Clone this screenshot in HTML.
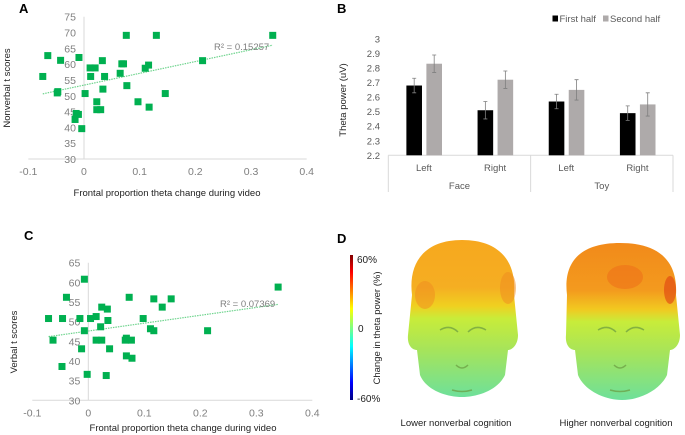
<!DOCTYPE html>
<html><head><meta charset="utf-8"><style>
body{margin:0;background:#fff}
svg{display:block;font-family:"Liberation Sans",sans-serif}
</style></head><body>
<svg id="fig" width="685" height="435" viewBox="0 0 685 435">
<defs>
<linearGradient id="cbar" x1="0" y1="0" x2="0" y2="1">
<stop offset="0" stop-color="#800000"/><stop offset="0.12" stop-color="#ff0000"/><stop offset="0.37" stop-color="#ffff00"/><stop offset="0.5" stop-color="#80ff80"/><stop offset="0.63" stop-color="#00ffff"/><stop offset="0.88" stop-color="#0000ff"/><stop offset="1" stop-color="#000080"/>
</linearGradient>
<linearGradient id="headL" x1="0" y1="0" x2="0" y2="1">
<stop offset="0" stop-color="#f7a81e"/><stop offset="0.3" stop-color="#f5ae22"/><stop offset="0.42" stop-color="#f0d020"/><stop offset="0.5" stop-color="#c8ec3a"/><stop offset="0.7" stop-color="#a6e45a"/><stop offset="1" stop-color="#6ee09a"/>
</linearGradient>
<linearGradient id="headR" x1="0" y1="0" x2="0" y2="1">
<stop offset="0" stop-color="#f28a1a"/><stop offset="0.3" stop-color="#f39a1e"/><stop offset="0.42" stop-color="#f2c820"/><stop offset="0.5" stop-color="#c8ec3a"/><stop offset="0.7" stop-color="#a6e45a"/><stop offset="1" stop-color="#6ee09a"/>
</linearGradient>
</defs>
<g id="panelA"></g>
<g id="panelB"></g>
<g id="panelC"></g>
<g id="panelD">
<text x="337" y="243" font-size="13" font-weight="bold">D</text>
<rect x="350" y="255" width="3" height="145" fill="url(#cbar)"/>
<text x="357" y="263" font-size="10" fill="#222">60%</text>
<text x="358" y="332" font-size="10" fill="#222">0</text>
<text x="357" y="402" font-size="10" fill="#222">-60%</text>
<text transform="translate(380,328) rotate(-90)" text-anchor="middle" font-size="9.5" fill="#222">Change in theta power (%)</text>
<g>
<path d="M412,295 C408,262 425,240 462,240 C500,240 517,262 514,295 L518,335 C518,345 512,350 508,350 L505,375 C498,390 478,397 462,397 C446,397 426,390 420,375 L417,350 C412,350 407,345 408,335 Z" fill="url(#headL)"/>
<ellipse cx="425" cy="295" rx="10" ry="14" fill="#f08a20" opacity="0.5"/>
<ellipse cx="508" cy="288" rx="8" ry="16" fill="#f08a20" opacity="0.5"/>
<path d="M440,330 q10,-6 18,2 M468,332 q8,-8 18,-2 M456,365 q6,6 12,0 M452,390 q10,3 20,0" stroke="#6a9a40" stroke-width="1.5" fill="none" opacity="0.7"/>
</g>
<g>
<path d="M567,295 C563,262 580,243 620,243 C660,243 678,262 676,295 L680,335 C680,345 674,350 670,350 L667,375 C660,390 640,400 622,400 C604,400 584,390 578,375 L575,350 C570,350 565,345 566,335 Z" fill="url(#headR)"/>
<ellipse cx="625" cy="277" rx="18" ry="12" fill="#ee6a18" opacity="0.5"/>
<ellipse cx="670" cy="290" rx="6" ry="14" fill="#e04010" opacity="0.6"/>
<path d="M598,330 q10,-6 18,2 M626,332 q8,-8 18,-2 M614,365 q6,6 12,0 M610,390 q10,3 20,0" stroke="#6a9a40" stroke-width="1.5" fill="none" opacity="0.7"/>
</g>
<text x="456" y="426" text-anchor="middle" font-size="9.5" fill="#222">Lower nonverbal cognition</text>
<text x="616" y="426" text-anchor="middle" font-size="9.5" fill="#222">Higher nonverbal cognition</text>
</g>
</svg>
<script>
const NS="http://www.w3.org/2000/svg";
function mk(p,t,a,txt){const e=document.createElementNS(NS,t);for(const k in a)e.setAttribute(k,a[k]);if(txt!==undefined)e.textContent=txt;p.appendChild(e);return e;}

// Panel A data
const aX=[-0.074,-0.065,-0.042,-0.048,-0.047,-0.009,-0.014,-0.010,-0.016,-0.004,0.002,0.011,0.020,0.012,0.023,0.023,0.030,0.033,0.034,0.037,0.065,0.068,0.071,0.076,0.077,0.097,0.110,0.116,0.117,0.130,0.146,0.213,0.339];
const aY=[56.1,62.7,61.2,50.9,51.3,62.1,44.4,44.1,42.5,39.6,50.7,58.8,58.8,56.1,48.1,45.6,45.6,61.1,52.1,56.1,57.1,60.1,60.1,69.1,53.2,48.1,58.7,59.7,46.4,69.1,50.7,61.1,69.1];
const aYTicks=[30,35,40,45,50,55,60,65,70,75];
const aXTicks=[-0.1,0,0.1,0.2,0.3,0.4];
const aTrend=[[-0.074,50.6],[0.339,66.0]];
const aR2="R² = 0.15257";

// Panel C data
const cX=[-0.071,-0.063,-0.046,-0.047,-0.039,-0.015,-0.012,-0.007,-0.007,-0.002,0.004,0.014,0.014,0.022,0.024,0.024,0.034,0.035,0.032,0.038,0.066,0.068,0.077,0.068,0.078,0.073,0.098,0.111,0.117,0.117,0.132,0.148,0.213,0.339];
const cY=[50.8,45.3,50.8,38.6,56.2,50.8,43.1,60.8,47.7,36.6,50.8,51.3,45.3,48.7,45.3,53.7,53.2,50.3,36.3,43.1,45.3,45.8,45.3,41.3,40.7,56.2,50.8,48.2,47.7,55.8,53.7,55.8,47.7,58.8];
const cYTicks=[30,35,40,45,50,55,60,65];
const cXTicks=[-0.1,0,0.1,0.2,0.3,0.4];
const cTrend=[[-0.071,46.2],[0.339,54.4]];
const cR2="R² = 0.07369";

// Panel B data
const bCats=["Left","Right","Left","Right"];
const bGroups=["Face","Toy"];
const bFirst=[2.68,2.51,2.57,2.49];
const bSecond=[2.83,2.72,2.65,2.55];
const bFirstErr=[0.05,0.06,0.05,0.05];
const bSecondErr=[0.06,0.06,0.07,0.08];
const bTicks=[2.2,2.3,2.4,2.5,2.6,2.7,2.8,2.9,3];

function scatter(g,cfg){
  const sx=v=>cfg.x0+(v-cfg.xmin)/(cfg.xmax-cfg.xmin)*(cfg.x1-cfg.x0);
  const sy=v=>cfg.yb+(v-cfg.ymin)/(cfg.ymax-cfg.ymin)*(cfg.yt-cfg.yb);
  let t=mk(g,"text",{x:cfg.lx,y:cfg.ly,"font-size":13,"font-weight":"bold"},cfg.label);
  
  
  let ax=mk(g,"line",{x1:sx(cfg.xmin),x2:sx(cfg.xmax),y1:sy(cfg.ymin),y2:sy(cfg.ymin),stroke:"#d9d9d9"});
  
  
  let ay=mk(g,"line",{x1:sx(0),x2:sx(0),y1:sy(cfg.ymin),y2:sy(cfg.ymax),stroke:"#d9d9d9"});
  
  
  cfg.yt_.forEach(v=>{const e=mk(g,"text",{x:sx(0)-8,y:sy(v)+4,"text-anchor":"end","font-size":10.5,fill:"#7f7f7f"},v);
    
    });
  cfg.xt_.forEach(v=>{const e=mk(g,"text",{x:sx(v),y:sy(cfg.ymin)+16,"text-anchor":"middle","font-size":10.5,fill:"#7f7f7f"},v);
    
    });
  const tr=mk(g,"line",{x1:sx(cfg.trend[0][0]),y1:sy(cfg.trend[0][1]),x2:sx(cfg.trend[1][0]),y2:sy(cfg.trend[1][1]),stroke:"#6fd48e","stroke-width":1.2,"stroke-dasharray":"1.5,1"});
  
  
  cfg.xs.forEach((v,i)=>{const r=mk(g,"rect",{x:sx(v)-3.5,y:sy(cfg.ys[i])-3.5,width:7,height:7,fill:"#00b050"});
    
    });
  const r2=mk(g,"text",{x:cfg.r2x,y:cfg.r2y,"font-size":9.5,fill:"#7f7f7f"},cfg.r2);
  
  
  const xt=mk(g,"text",{x:cfg.xtx,y:cfg.xty,"text-anchor":"middle","font-size":9.5,fill:"#222"},"Frontal proportion theta change during video");
  
  
  const yt=mk(g,"text",{transform:`translate(${cfg.ytx},${cfg.yty}) rotate(-90)`,"text-anchor":"middle","font-size":9.5,fill:"#222"},cfg.ytitle);
  
  
}
scatter(document.getElementById("panelA"),{label:"A",lx:19,ly:13,x0:28.3,x1:306.7,xmin:-0.1,xmax:0.4,yb:159,yt:16.7,ymin:30,ymax:75,
  xs:aX,ys:aY,yt_:aYTicks,xt_:aXTicks,trend:aTrend,r2:aR2,r2x:214,r2y:50,xtx:167,xty:196,ytitle:"Nonverbal t scores",ytx:10,yty:88});
scatter(document.getElementById("panelC"),{label:"C",lx:24,ly:240,x0:32.3,x1:312.3,xmin:-0.1,xmax:0.4,yb:400.3,yt:262.7,ymin:30,ymax:65,
  xs:cX,ys:cY,yt_:cYTicks,xt_:cXTicks,trend:cTrend,r2:cR2,r2x:220,r2y:307,xtx:183,xty:431,ytitle:"Verbal  t scores",ytx:17,yty:342});

// Panel B
(function(){
  const g=document.getElementById("panelB");
  const x0=388.3,x1=673,yb=155.3,yt=39,ymin=2.2,ymax=3;
  const sy=v=>yb+(v-ymin)/(ymax-ymin)*(yt-yb);
  const cw=(x1-x0)/bCats.length;
  let t=mk(g,"text",{x:337,y:13,"font-size":13,"font-weight":"bold"},"B");
  
  
  bTicks.forEach(v=>{const e=mk(g,"text",{x:380,y:sy(v)+3.5,"text-anchor":"end","font-size":9.5,fill:"#595959"},v);
    
    });
  const ax=mk(g,"line",{x1:x0,x2:x1,y1:yb,y2:yb,stroke:"#d9d9d9"});
  
  
  [0,2,4].forEach(k=>{const l=mk(g,"line",{x1:x0+k*cw,x2:x0+k*cw,y1:yb,y2:192,stroke:"#d9d9d9"});
    
    });
  bCats.forEach((c,i)=>{
    const cx=x0+cw*(i+0.5);
    const e=mk(g,"text",{x:cx,y:171,"text-anchor":"middle","font-size":9.5,fill:"#595959"},c);
    
    
    [[bFirst,bFirstErr,"#000",-9.7,"bar-first-half"],[bSecond,bSecondErr,"#aeaaaa",10.3,"bar-second-half"]].forEach(([vals,errs,col,off,nm])=>{
      const bx=cx+off;
      const r=mk(g,"rect",{x:bx-7.8,y:sy(vals[i]),width:15.6,height:yb-sy(vals[i]),fill:col});
      
      
      const hi=sy(vals[i]+errs[i]),lo=sy(vals[i]-errs[i]);
      const eb=mk(g,"path",{d:`M${bx},${hi}V${lo}M${bx-2},${hi}H${bx+2}M${bx-2},${lo}H${bx+2}`,stroke:"#7f7f7f","stroke-width":0.8,fill:"none"});
      
      
    });
  });
  bGroups.forEach((gname,j)=>{const e=mk(g,"text",{x:x0+cw*(2*j+1),y:189,"text-anchor":"middle","font-size":9.5,fill:"#595959"},gname);
    
    });
  const yt2=mk(g,"text",{transform:"translate(346,100) rotate(-90)","text-anchor":"middle","font-size":9.5,fill:"#222"},"Theta power (uV)");
  
  
  const l1=mk(g,"rect",{x:552.5,y:15.5,width:5.5,height:6,fill:"#000"});
  
  
  const l1t=mk(g,"text",{x:559.5,y:22,"font-size":9.5,fill:"#595959"},"First half");
  
  
  const l2=mk(g,"rect",{x:603,y:15.5,width:5.5,height:6,fill:"#aeaaaa"});
  
  
  const l2t=mk(g,"text",{x:610,y:22,"font-size":9.5,fill:"#595959"},"Second half");
  
  
})();
</script>
</body></html>
